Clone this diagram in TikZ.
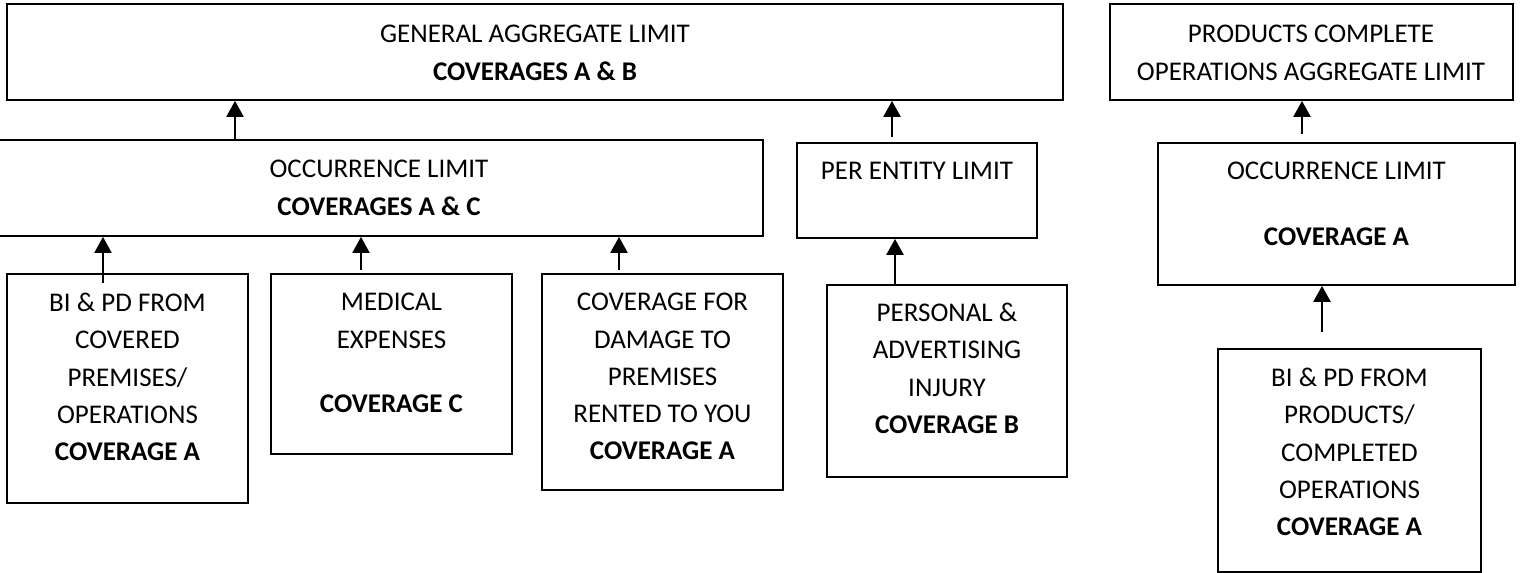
\documentclass[tikz,border=0pt]{standalone}
\usepackage{fontspec}
\setmainfont{Carlito}
\usetikzlibrary{arrows.meta,fit}
\tikzset{
  box/.style={draw=black, line width=1.8pt, inner sep=0pt, fit={#1}},
  txt/.style={anchor=north, inner sep=0pt, align=center,
              font=\fontsize{27}{37.3}\selectfont},
  arr/.style={line width=2.4pt, -{Triangle[width=17pt,length=16pt]}}
}
\begin{document}
\begin{tikzpicture}[x=1pt,y=-1pt]
\useasboundingbox (0,0) rectangle (1527,573);

% limit boxes
\node[box={(7,4) (1063,100)}] (gal) {};
\node[box={(1110,4) (1513,100)}] (pc) {};
\node[box={(-5,140) (763,236)}] (occ) {};
\node[box={(797,143) (1037,238)}] (pe) {};
\node[box={(1158,143) (1515,285)}] (occb) {};

% coverage boxes
\node[box={(7,274) (248,503)}] (bipd) {};
\node[box={(271,274) (512,454)}] (med) {};
\node[box={(542,274) (783,490)}] (dmg) {};
\node[box={(827,285) (1067,477)}] (pai) {};
\node[box={(1218,349) (1481,572)}] (prod) {};

% labels
\node[txt] (galt) at (535,25) {GENERAL AGGREGATE LIMIT\\\textbf{COVERAGES A \& B}};
\node[txt] (pct) at (1311,25) {PRODUCTS COMPLETE\\OPERATIONS AGGREGATE LIMIT};
\node[txt] (occt) at (379,160) {OCCURRENCE LIMIT\\\textbf{COVERAGES A \& C}};
\node[txt] (pet) at (917,162) {PER ENTITY LIMIT};
\node[txt] (occbt) at (1336.5,162) {OCCURRENCE LIMIT\\[28pt]\textbf{COVERAGE A}};
\node[txt] (bipdt) at (127.5,293) {BI \& PD FROM\\COVERED\\PREMISES/\\OPERATIONS\\\textbf{COVERAGE A}};
\node[txt] (medt) at (391.5,293) {MEDICAL\\EXPENSES\\[27pt]\textbf{COVERAGE C}};
\node[txt] (dmgt) at (662.5,293) {COVERAGE FOR\\DAMAGE TO\\PREMISES\\RENTED TO YOU\\\textbf{COVERAGE A}};
\node[txt] (pait) at (947,303) {PERSONAL \&\\ADVERTISING\\INJURY\\\textbf{COVERAGE B}};
\node[txt] (prodt) at (1349.5,368) {BI \& PD FROM\\PRODUCTS/\\COMPLETED\\OPERATIONS\\\textbf{COVERAGE A}};

% connectors
\draw[arr] ([xshift=-144pt]occ.north) -- ([xshift=-144pt]occ.north |- gal.south);
\draw[arr] ([xshift=-25pt,yshift=5pt]pe.north) -- ([xshift=-25pt]pe.north |- gal.south);
\draw[arr] ([xshift=-34.5pt,yshift=8pt]occb.north) -- ([xshift=-34.5pt]occb.north |- pc.south);
\draw[arr] ([xshift=-27.5pt,yshift=16pt]prod.north) -- ([xshift=-27.5pt]prod.north |- occb.south);
\draw[arr] ([xshift=-24.5pt,yshift=-10pt]bipd.north) -- ([xshift=-24.5pt]bipd.north |- occ.south);
\draw[arr] ([xshift=-30.5pt,yshift=3pt]med.north) -- ([xshift=-30.5pt]med.north |- occ.south);
\draw[arr] ([xshift=-43.5pt,yshift=3pt]dmg.north) -- ([xshift=-43.5pt]dmg.north |- occ.south);
\draw[arr] ([xshift=-52pt,yshift=-1pt]pai.north) -- ([xshift=-52pt]pai.north |- pe.south);
\end{tikzpicture}
\end{document}
